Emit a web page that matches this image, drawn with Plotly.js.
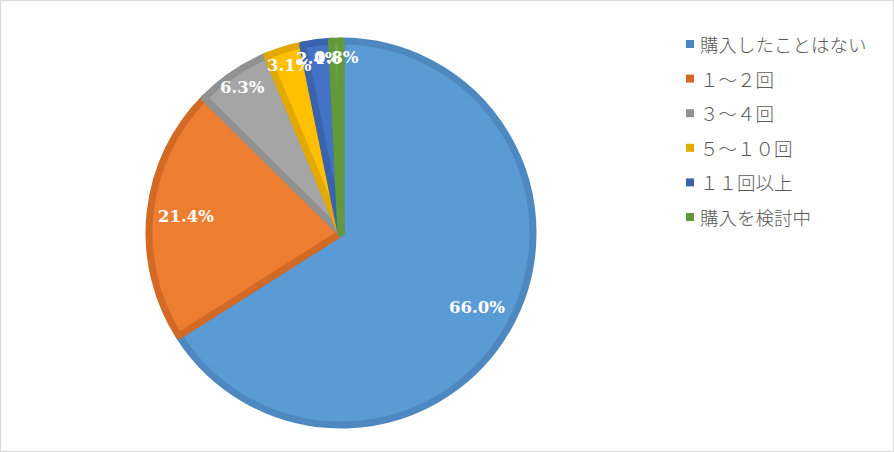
<!DOCTYPE html>
<html>
<head>
<meta charset="utf-8">
<script src="https://cdn.plot.ly/plotly-3.0.1.min.js"></script>
<style>
  html, body { margin: 0; padding: 0; background: #ffffff; }
  #chart { width: 894px; height: 452px; }
</style>
</head>
<body>
<div id="chart"></div>
<script>
// ---- data ----
const categories = ['購入したことはない', '１～２回', '３～４回', '５～１０回', '１１回以上', '購入を検討中'];
const values = [66.0, 21.4, 6.3, 3.1, 2.4, 0.8];

// ---- style ----
const fillColors = ['#5B9BD5', '#ED7D31', '#A5A5A5', '#FFC000', '#4472C4', '#70AD47'];
const lineColors = ['#4E88C0', '#D26A26', '#919191', '#E2A900', '#3A63AE', '#61993C'];

const W = 894, H = 452;
const cx = 341, cy = 233, R = 192;

const total = values.reduce((a, b) => a + b, 0);

// label annotations positioned from the data through the pie geometry
const annotations = [];
let cum = 0;
values.forEach((v, i) => {
  const mid = (cum + v / 2) / total;
  cum += v;
  const theta = (90 - 360 * mid) * Math.PI / 180;
  const rl = (v / total > 0.1 ? 0.81 : 0.915) * R;
  const px = cx + rl * Math.cos(theta);
  const py = cy - rl * Math.sin(theta);
  annotations.push({
    x: px / W, y: 1 - py / H, xref: 'paper', yref: 'paper',
    xanchor: 'center', yanchor: 'middle', showarrow: false,
    text: '<b>' + v.toFixed(1) + '%</b>',
    font: { family: 'DejaVu Serif', size: 16.5, color: '#ffffff' }
  });
});

// custom legend (marker squares + texts), built from categories
const shapes = [];
const legX = 698, legY0 = 44, legStep = 34.6, sq = 8;
categories.forEach((c, i) => {
  const y = legY0 + i * legStep;
  shapes.push({
    type: 'rect', xref: 'paper', yref: 'paper',
    x0: 686 / W, x1: (686 + sq) / W,
    y0: 1 - (y + sq / 2) / H, y1: 1 - (y - sq / 2) / H,
    fillcolor: lineColors[i], line: { width: 0 }
  });
  annotations.push({
    x: legX / W, y: 1 - y / H, xref: 'paper', yref: 'paper',
    xanchor: 'left', yanchor: 'middle', showarrow: false,
    text: c,
    font: { family: 'Noto Sans CJK JP', size: 18.5, color: '#595959', weight: 300 }
  });
});

// outer frame
shapes.push({
  type: 'rect', xref: 'paper', yref: 'paper',
  x0: 0.5 / W, x1: 1 - 0.5 / W, y0: 0.5 / H, y1: 1 - 0.5 / H,
  line: { color: '#D9D9D9', width: 1 }, fillcolor: 'rgba(0,0,0,0)'
});

const trace = {
  type: 'pie',
  labels: categories,
  values: values,
  sort: false,
  direction: 'clockwise',
  rotation: 0,
  textinfo: 'none',
  hoverinfo: 'label+percent',
  showlegend: false,
  marker: { colors: fillColors, line: { color: lineColors, width: 7 } },
  domain: {
    x: [(cx - R) / W, (cx + R) / W],
    y: [(H - cy - R) / H, (H - cy + R) / H]
  }
};

const layout = {
  width: W, height: H,
  margin: { l: 0, r: 0, t: 0, b: 0 },
  paper_bgcolor: '#ffffff',
  showlegend: false,
  annotations: annotations,
  shapes: shapes
};

Plotly.newPlot('chart', [trace], layout, { displayModeBar: false, staticPlot: true });
</script>
</body>
</html>
